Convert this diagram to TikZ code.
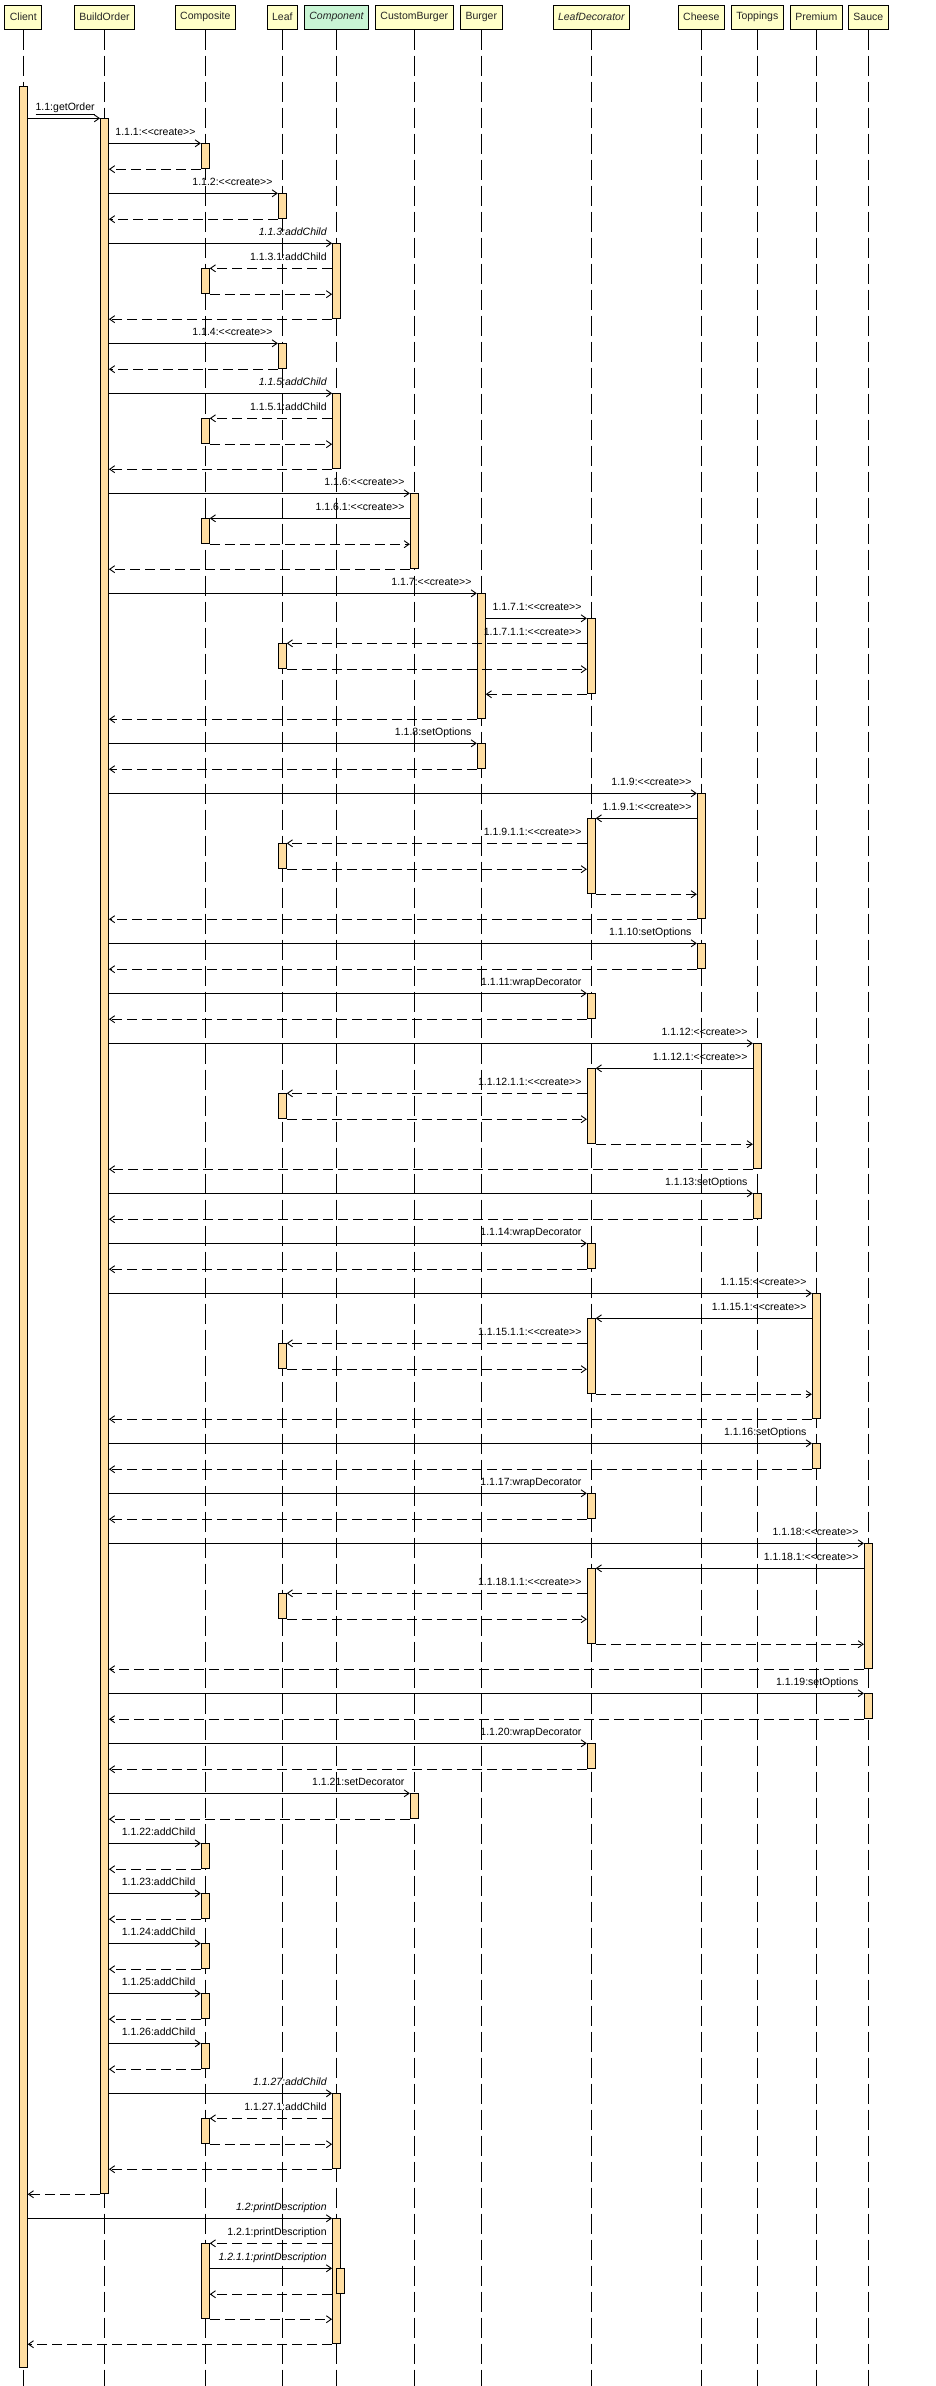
\documentclass[tikz,border=0pt]{standalone}
\usepackage{fontspec}
\setmainfont{Liberation Sans}[Ligatures=TeXOff]
\usepackage{tikz}
\usetikzlibrary{arrows.meta,positioning}
\definecolor{headfill}{RGB}{255,255,200}
\definecolor{compfill}{RGB}{200,245,212}
\definecolor{actfill}{RGB}{255,222,162}

\begin{document}
\begin{tikzpicture}[
  x=1pt, y=-1pt,
  head/.style={rectangle, draw, line width=1pt, fill=headfill, minimum height=24pt, inner xsep=5pt, text=black!85, font=\fontsize{10.5}{12}\selectfont},
  life/.style={line width=1pt, dash pattern=on 20pt off 6pt},
  act/.style={rectangle, draw, line width=0.9pt, fill=actfill, minimum width=8pt, inner sep=0pt, anchor=north},
  msg/.style={-{Straight Barb[length=5pt, width=7pt]}, line width=0.9pt},
  ret/.style={msg, dash pattern=on 10pt off 5pt},
  lbl/.style={anchor=base east, xshift=-5pt, yshift=8pt, inner sep=0pt, font=\fontsize{10.5}{12}\selectfont},
]
  \useasboundingbox (0,0) rectangle (935,2386);

  % Lifeline heads
  \node[head] (cl) at (23.3,17) {Client};
  \node[head] (bo) at (104.5,17) {BuildOrder};
  \node[head] (cs) at (205.3,17) {Composite};
  \node[head] (lf) at (282.3,17) {Leaf};
  \node[head, fill=compfill] (cm) at (336.5,17) {\itshape Component};
  \node[head] (cb) at (414.3,17) {CustomBurger};
  \node[head] (bg) at (481.3,17) {Burger};
  \node[head] (ld) at (591.3,17) {\itshape LeafDecorator};
  \node[head] (ch) at (701.3,17) {Cheese};
  \node[head] (tp) at (757.3,17) {Toppings};
  \node[head] (pm) at (816.3,17) {Premium};
  \node[head] (sc) at (868.3,17) {Sauce};

  % Lifelines
  \draw[life] (cl.south) -- (cl.south |- 0,2386);
  \draw[life] (bo.south) -- (bo.south |- 0,2386);
  \draw[life] (cs.south) -- (cs.south |- 0,2386);
  \draw[life] (lf.south) -- (lf.south |- 0,2386);
  \draw[life] (cm.south) -- (cm.south |- 0,2386);
  \draw[life] (cb.south) -- (cb.south |- 0,2386);
  \draw[life] (bg.south) -- (bg.south |- 0,2386);
  \draw[life] (ld.south) -- (ld.south |- 0,2386);
  \draw[life] (ch.south) -- (ch.south |- 0,2386);
  \draw[life] (tp.south) -- (tp.south |- 0,2386);
  \draw[life] (pm.south) -- (pm.south |- 0,2386);
  \draw[life] (sc.south) -- (sc.south |- 0,2386);

  % Activations
  \node[act, minimum height=2281pt] (a0) at (cl |- 0,86) {};
  \node[act, minimum height=2075pt] (b0) at (bo |- 0,118.3) {};
  \node[act, minimum height=25pt] (cs1) at (cs |- 0,143.3) {};
  \node[act, minimum height=25pt] (lf1) at (lf |- 0,193.3) {};
  \node[act, minimum height=75pt] (cm1) at (cm |- 0,243.3) {};
  \node[act, minimum height=25pt] (cs2) at (cs |- 0,268.3) {};
  \node[act, minimum height=25pt] (lf2) at (lf |- 0,343.3) {};
  \node[act, minimum height=75pt] (cm2) at (cm |- 0,393.3) {};
  \node[act, minimum height=25pt] (cs3) at (cs |- 0,418.3) {};
  \node[act, minimum height=75pt] (cb1) at (cb |- 0,493.3) {};
  \node[act, minimum height=25pt] (cs4) at (cs |- 0,518.3) {};
  \node[act, minimum height=125pt] (bg1) at (bg |- 0,593.3) {};
  \node[act, minimum height=75pt] (ld1) at (ld |- 0,618.3) {};
  \node[act, minimum height=25pt] (lf3) at (lf |- 0,643.3) {};
  \node[act, minimum height=25pt] (bg2) at (bg |- 0,743.3) {};
  \node[act, minimum height=125pt] (ch1) at (ch |- 0,793.3) {};
  \node[act, minimum height=75pt] (ld2) at (ld |- 0,818.3) {};
  \node[act, minimum height=25pt] (lf4) at (lf |- 0,843.3) {};
  \node[act, minimum height=25pt] (ch2) at (ch |- 0,943.3) {};
  \node[act, minimum height=25pt] (ld3) at (ld |- 0,993.3) {};
  \node[act, minimum height=125pt] (tp1) at (tp |- 0,1043.3) {};
  \node[act, minimum height=75pt] (ld4) at (ld |- 0,1068.3) {};
  \node[act, minimum height=25pt] (lf5) at (lf |- 0,1093.3) {};
  \node[act, minimum height=25pt] (tp2) at (tp |- 0,1193.3) {};
  \node[act, minimum height=25pt] (ld5) at (ld |- 0,1243.3) {};
  \node[act, minimum height=125pt] (pm1) at (pm |- 0,1293.3) {};
  \node[act, minimum height=75pt] (ld6) at (ld |- 0,1318.3) {};
  \node[act, minimum height=25pt] (lf6) at (lf |- 0,1343.3) {};
  \node[act, minimum height=25pt] (pm2) at (pm |- 0,1443.3) {};
  \node[act, minimum height=25pt] (ld7) at (ld |- 0,1493.3) {};
  \node[act, minimum height=125pt] (sc1) at (sc |- 0,1543.3) {};
  \node[act, minimum height=75pt] (ld8) at (ld |- 0,1568.3) {};
  \node[act, minimum height=25pt] (lf7) at (lf |- 0,1593.3) {};
  \node[act, minimum height=25pt] (sc2) at (sc |- 0,1693.3) {};
  \node[act, minimum height=25pt] (ld9) at (ld |- 0,1743.3) {};
  \node[act, minimum height=25pt] (cb2) at (cb |- 0,1793.3) {};
  \node[act, minimum height=25pt] (cs5) at (cs |- 0,1843.3) {};
  \node[act, minimum height=25pt] (cs6) at (cs |- 0,1893.3) {};
  \node[act, minimum height=25pt] (cs7) at (cs |- 0,1943.3) {};
  \node[act, minimum height=25pt] (cs8) at (cs |- 0,1993.3) {};
  \node[act, minimum height=25pt] (cs9) at (cs |- 0,2043.3) {};
  \node[act, minimum height=75pt] (cm3) at (cm |- 0,2093.3) {};
  \node[act, minimum height=25pt] (cs10) at (cs |- 0,2118.3) {};
  \node[act, minimum height=125pt] (cm4) at (cm |- 0,2218.3) {};
  \node[act, minimum height=75pt] (cs11) at (cs |- 0,2243.3) {};
  \node[act, minimum height=25pt] (cm5) at (340.5,2268.3) {};

  % 1.1 getOrder
  \draw[msg] (a0.east |- b0.north) -- (b0.north west) node[lbl] {\underline{1.1:getOrder}};
  % Composite and leaves
  \draw[msg] (b0.east |- cs1.north) -- (cs1.north west) node[lbl] {1.1.1:<<create>>};
  \draw[ret] (cs1.south west) -- (b0.east |- cs1.south);
  \draw[msg] (b0.east |- lf1.north) -- (lf1.north west) node[lbl] {1.1.2:<<create>>};
  \draw[ret] (lf1.south west) -- (b0.east |- lf1.south);
  \draw[msg] (b0.east |- cm1.north) -- (cm1.north west) node[lbl] {\itshape 1.1.3:addChild};
  \draw[ret] (cm1.west |- cs2.north) node[lbl] {1.1.3.1:addChild} -- (cs2.north east);
  \draw[ret] (cs2.south east) -- (cm1.west |- cs2.south);
  \draw[ret] (cm1.south west) -- (b0.east |- cm1.south);
  \draw[msg] (b0.east |- lf2.north) -- (lf2.north west) node[lbl] {1.1.4:<<create>>};
  \draw[ret] (lf2.south west) -- (b0.east |- lf2.south);
  \draw[msg] (b0.east |- cm2.north) -- (cm2.north west) node[lbl] {\itshape 1.1.5:addChild};
  \draw[ret] (cm2.west |- cs3.north) node[lbl] {1.1.5.1:addChild} -- (cs3.north east);
  \draw[ret] (cs3.south east) -- (cm2.west |- cs3.south);
  \draw[ret] (cm2.south west) -- (b0.east |- cm2.south);
  % CustomBurger
  \draw[msg] (b0.east |- cb1.north) -- (cb1.north west) node[lbl] {1.1.6:<<create>>};
  \draw[msg] (cb1.west |- cs4.north) node[lbl] {1.1.6.1:<<create>>} -- (cs4.north east);
  \draw[ret] (cs4.south east) -- (cb1.west |- cs4.south);
  \draw[ret] (cb1.south west) -- (b0.east |- cb1.south);
  % Burger
  \draw[msg] (b0.east |- bg1.north) -- (bg1.north west) node[lbl] {1.1.7:<<create>>};
  \draw[msg] (bg1.east |- ld1.north) -- (ld1.north west) node[lbl] {1.1.7.1:<<create>>};
  \draw[ret] (ld1.west |- lf3.north) node[lbl] {1.1.7.1.1:<<create>>} -- (lf3.north east);
  \draw[ret] (lf3.south east) -- (ld1.west |- lf3.south);
  \draw[ret] (ld1.south west) -- (bg1.east |- ld1.south);
  \draw[ret] (bg1.south west) -- (b0.east |- bg1.south);
  \draw[msg] (b0.east |- bg2.north) -- (bg2.north west) node[lbl] {1.1.8:setOptions};
  \draw[ret] (bg2.south west) -- (b0.east |- bg2.south);
  % Cheese
  \draw[msg] (b0.east |- ch1.north) -- (ch1.north west) node[lbl] {1.1.9:<<create>>};
  \draw[msg] (ch1.west |- ld2.north) node[lbl] {1.1.9.1:<<create>>} -- (ld2.north east);
  \draw[ret] (ld2.west |- lf4.north) node[lbl] {1.1.9.1.1:<<create>>} -- (lf4.north east);
  \draw[ret] (lf4.south east) -- (ld2.west |- lf4.south);
  \draw[ret] (ld2.south east) -- (ch1.west |- ld2.south);
  \draw[ret] (ch1.south west) -- (b0.east |- ch1.south);
  \draw[msg] (b0.east |- ch2.north) -- (ch2.north west) node[lbl] {1.1.10:setOptions};
  \draw[ret] (ch2.south west) -- (b0.east |- ch2.south);
  \draw[msg] (b0.east |- ld3.north) -- (ld3.north west) node[lbl] {1.1.11:wrapDecorator};
  \draw[ret] (ld3.south west) -- (b0.east |- ld3.south);
  % Toppings
  \draw[msg] (b0.east |- tp1.north) -- (tp1.north west) node[lbl] {1.1.12:<<create>>};
  \draw[msg] (tp1.west |- ld4.north) node[lbl] {1.1.12.1:<<create>>} -- (ld4.north east);
  \draw[ret] (ld4.west |- lf5.north) node[lbl] {1.1.12.1.1:<<create>>} -- (lf5.north east);
  \draw[ret] (lf5.south east) -- (ld4.west |- lf5.south);
  \draw[ret] (ld4.south east) -- (tp1.west |- ld4.south);
  \draw[ret] (tp1.south west) -- (b0.east |- tp1.south);
  \draw[msg] (b0.east |- tp2.north) -- (tp2.north west) node[lbl] {1.1.13:setOptions};
  \draw[ret] (tp2.south west) -- (b0.east |- tp2.south);
  \draw[msg] (b0.east |- ld5.north) -- (ld5.north west) node[lbl] {1.1.14:wrapDecorator};
  \draw[ret] (ld5.south west) -- (b0.east |- ld5.south);
  % Premium
  \draw[msg] (b0.east |- pm1.north) -- (pm1.north west) node[lbl] {1.1.15:<<create>>};
  \draw[msg] (pm1.west |- ld6.north) node[lbl] {1.1.15.1:<<create>>} -- (ld6.north east);
  \draw[ret] (ld6.west |- lf6.north) node[lbl] {1.1.15.1.1:<<create>>} -- (lf6.north east);
  \draw[ret] (lf6.south east) -- (ld6.west |- lf6.south);
  \draw[ret] (ld6.south east) -- (pm1.west |- ld6.south);
  \draw[ret] (pm1.south west) -- (b0.east |- pm1.south);
  \draw[msg] (b0.east |- pm2.north) -- (pm2.north west) node[lbl] {1.1.16:setOptions};
  \draw[ret] (pm2.south west) -- (b0.east |- pm2.south);
  \draw[msg] (b0.east |- ld7.north) -- (ld7.north west) node[lbl] {1.1.17:wrapDecorator};
  \draw[ret] (ld7.south west) -- (b0.east |- ld7.south);
  % Sauce
  \draw[msg] (b0.east |- sc1.north) -- (sc1.north west) node[lbl] {1.1.18:<<create>>};
  \draw[msg] (sc1.west |- ld8.north) node[lbl] {1.1.18.1:<<create>>} -- (ld8.north east);
  \draw[ret] (ld8.west |- lf7.north) node[lbl] {1.1.18.1.1:<<create>>} -- (lf7.north east);
  \draw[ret] (lf7.south east) -- (ld8.west |- lf7.south);
  \draw[ret] (ld8.south east) -- (sc1.west |- ld8.south);
  \draw[ret] (sc1.south west) -- (b0.east |- sc1.south);
  \draw[msg] (b0.east |- sc2.north) -- (sc2.north west) node[lbl] {1.1.19:setOptions};
  \draw[ret] (sc2.south west) -- (b0.east |- sc2.south);
  \draw[msg] (b0.east |- ld9.north) -- (ld9.north west) node[lbl] {1.1.20:wrapDecorator};
  \draw[ret] (ld9.south west) -- (b0.east |- ld9.south);
  % Assembly
  \draw[msg] (b0.east |- cb2.north) -- (cb2.north west) node[lbl] {1.1.21:setDecorator};
  \draw[ret] (cb2.south west) -- (b0.east |- cb2.south);
  \draw[msg] (b0.east |- cs5.north) -- (cs5.north west) node[lbl] {1.1.22:addChild};
  \draw[ret] (cs5.south west) -- (b0.east |- cs5.south);
  \draw[msg] (b0.east |- cs6.north) -- (cs6.north west) node[lbl] {1.1.23:addChild};
  \draw[ret] (cs6.south west) -- (b0.east |- cs6.south);
  \draw[msg] (b0.east |- cs7.north) -- (cs7.north west) node[lbl] {1.1.24:addChild};
  \draw[ret] (cs7.south west) -- (b0.east |- cs7.south);
  \draw[msg] (b0.east |- cs8.north) -- (cs8.north west) node[lbl] {1.1.25:addChild};
  \draw[ret] (cs8.south west) -- (b0.east |- cs8.south);
  \draw[msg] (b0.east |- cs9.north) -- (cs9.north west) node[lbl] {1.1.26:addChild};
  \draw[ret] (cs9.south west) -- (b0.east |- cs9.south);
  \draw[msg] (b0.east |- cm3.north) -- (cm3.north west) node[lbl] {\itshape 1.1.27:addChild};
  \draw[ret] (cm3.west |- cs10.north) node[lbl] {1.1.27.1:addChild} -- (cs10.north east);
  \draw[ret] (cs10.south east) -- (cm3.west |- cs10.south);
  \draw[ret] (cm3.south west) -- (b0.east |- cm3.south);
  \draw[ret] (b0.south west) -- (a0.east |- b0.south);
  % 1.2 printDescription
  \draw[msg] (a0.east |- cm4.north) -- (cm4.north west) node[lbl] {\itshape 1.2:printDescription};
  \draw[ret] (cm4.west |- cs11.north) node[lbl] {1.2.1:printDescription} -- (cs11.north east);
  \draw[msg] (cs11.east |- cm5.north) -- (cm4.west |- cm5.north) node[lbl] {\itshape 1.2.1.1:printDescription};
  \draw[ret] (cm4.west |- cm5.south) -- (cs11.east |- cm5.south);
  \draw[ret] (cs11.south east) -- (cm4.west |- cs11.south);
  \draw[ret] (cm4.south west) -- (a0.east |- cm4.south);
\end{tikzpicture}
\end{document}
